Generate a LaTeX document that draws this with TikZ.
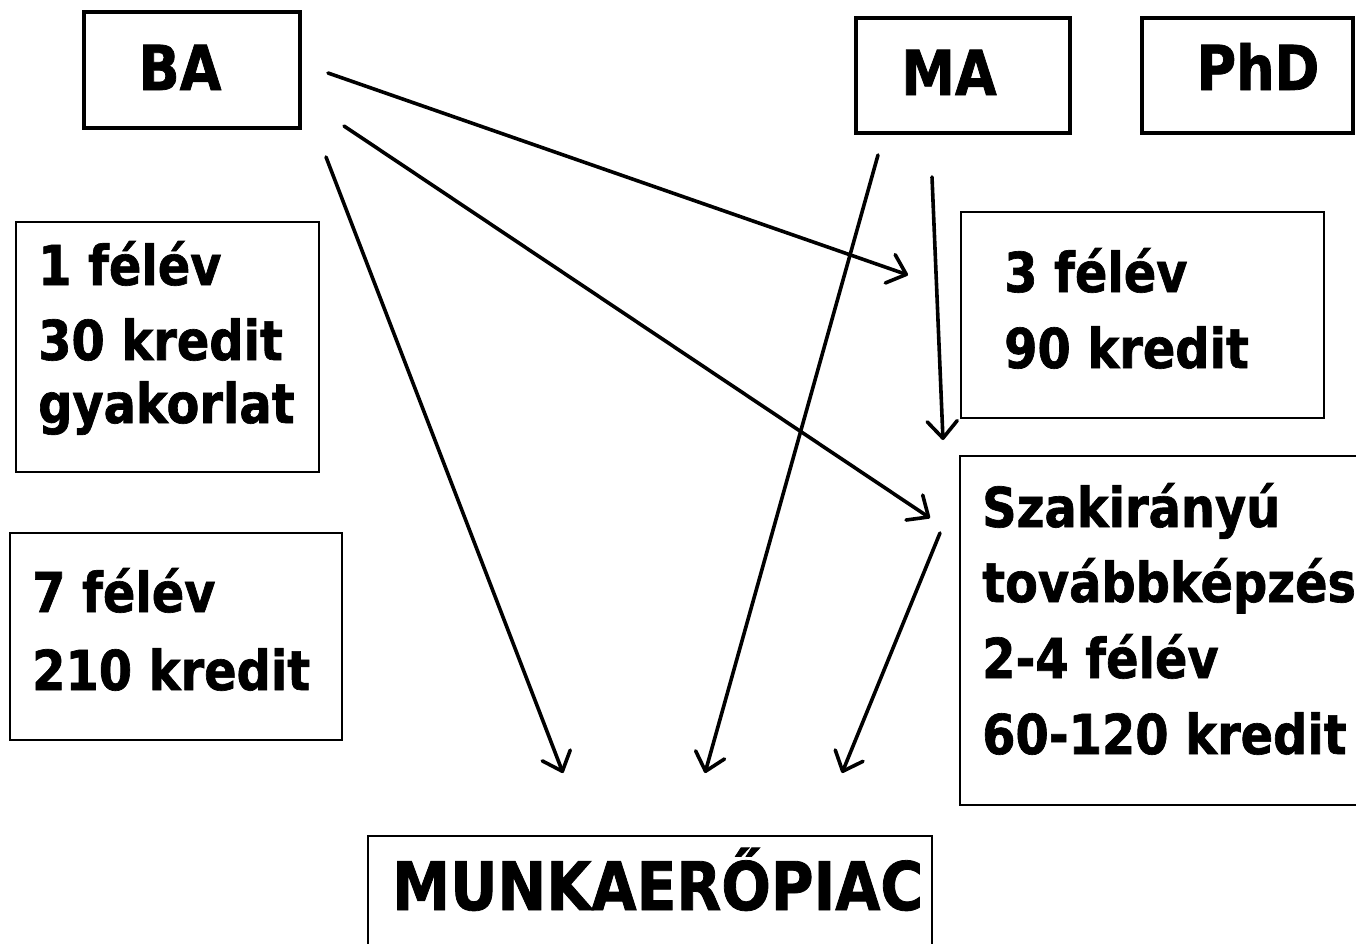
\documentclass[tikz,border=0pt]{standalone}
\usepackage{fontspec}
\usetikzlibrary{arrows.meta}
\newfontfamily\vfont{DejaVu Sans Bold}[FakeStretch=0.87,FakeBold=1.2]
\tikzset{
  thickbox/.style={draw=black, line width=4pt, fill=white},
  thinbox/.style={draw=black, line width=2.5pt, fill=white},
  lbl/.style={inner sep=0pt, anchor=base west, font=\vfont\fontsize{55}{66}\selectfont},
  title/.style={inner sep=0pt, anchor=base, font=\vfont\fontsize{62}{70}\selectfont},
  arr/.style={line width=3.6pt, line cap=round, -{Straight Barb[length=17pt,width=30pt,line width=3.6pt,round]}}
}
\begin{document}
\begin{tikzpicture}[x=1pt,y=-1pt]
\path[use as bounding box, clip] (0,0) rectangle (1356,943);
% boxes
\path[thickbox] (84,12) rectangle (300,128);
\node[title] (ba) at (180,90) {BA};
\path[thickbox] (856,18) rectangle (1070,133);
\node[title] (ma) at (949,95) {MA};
\path[thickbox] (1142,18) rectangle (1353,133);
\node[title] (phd) at (1258,90) {PhD};

\path[thinbox] (16,222) rectangle (319,472);
\node[lbl] (t1) at (38,285) {1 félév};
\node[lbl] (t2) at (38,360) {30 kredit};
\node[lbl] (t3) at (38,423) {gyakorlat};

\path[thinbox] (10,533) rectangle (342,740);
\node[lbl] (s1) at (32,612) {7 félév};
\node[lbl] (s2) at (32,690) {210 kredit};

\path[thinbox] (961,212) rectangle (1324,418);
\node[lbl] (m1) at (1004,292) {3 félév};
\node[lbl] (m2) at (1004,368) {90 kredit};

\path[thinbox] (960,456) rectangle (1380,805);
\node[lbl] (z1) at (982,527) {Szakirányú};
\node[lbl] (z2) at (982,602) {továbbképzés};
\node[lbl] (z3) at (982,678) {2-4 félév};
\node[lbl] (z4) at (982,754) {60-120 kredit};

\path[thinbox] (368,836) rectangle (932,970);
\node[lbl, font=\vfont\fontsize{67}{70}\selectfont] (mk) at (392,910) {MUNKAERŐPIAC};

% arrow endpoints
\coordinate (a1s) at (328,73);  \coordinate (a1e) at (908,275);
\coordinate (a2s) at (344,126); \coordinate (a2e) at (930,518);
\coordinate (a3s) at (326,157); \coordinate (a3e) at (563,773);
\coordinate (a4s) at (878,155); \coordinate (a4e) at (705,773);
\coordinate (a5s) at (932,177); \coordinate (a5e) at (943,440);
\coordinate (a6s) at (940,533); \coordinate (a6e) at (842,773);
\draw[arr] (a1s) -- (a1e);
\draw[arr] (a2s) -- (a2e);
\draw[arr] (a3s) -- (a3e);
\draw[arr] (a4s) -- (a4e);
\draw[arr] (a5s) -- (a5e);
\draw[arr] (a6s) -- (a6e);
\end{tikzpicture}
\end{document}
